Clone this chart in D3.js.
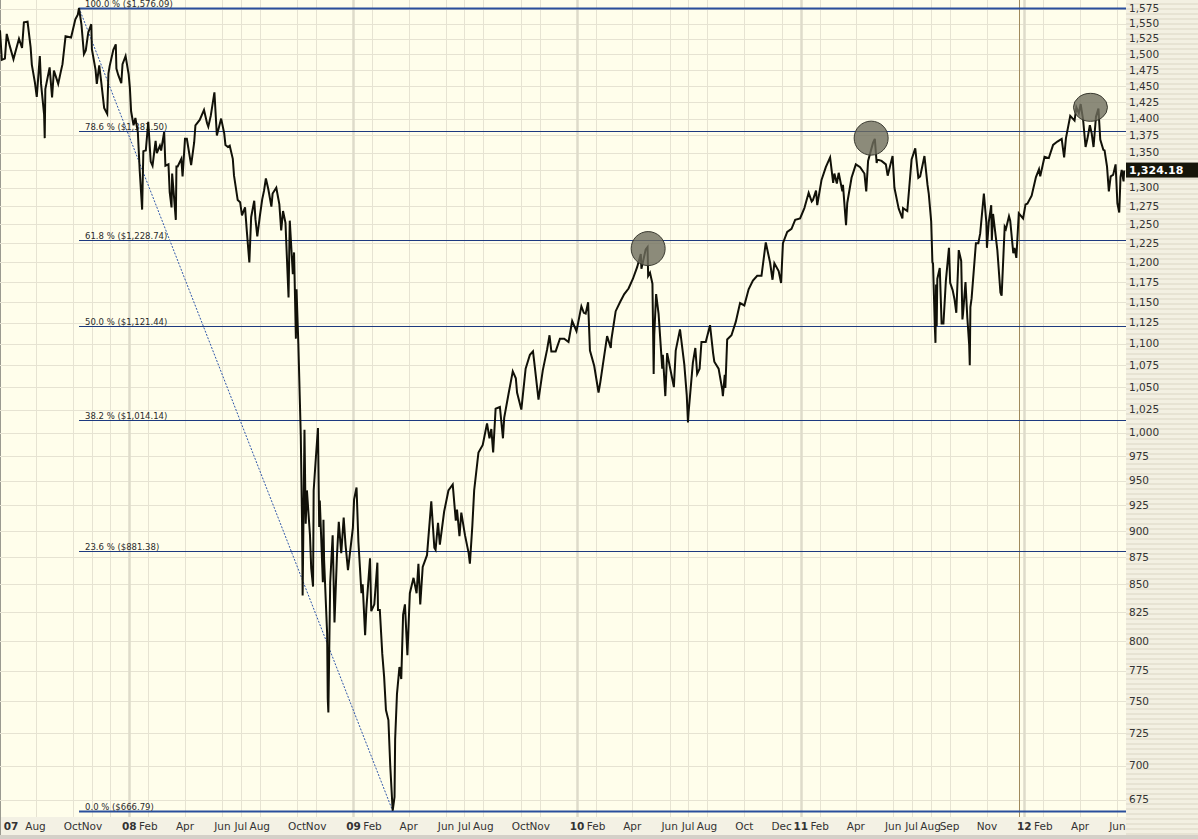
<!DOCTYPE html>
<html>
<head>
<meta charset="utf-8">
<script src="https://cdn.jsdelivr.net/npm/d3@7"></script>
<style>
  html, body { margin: 0; padding: 0; background: #fff; }
  svg { display: block; font-family: "DejaVu Sans", Tahoma, sans-serif; }
</style>
</head>
<body>
<div id="chart"></div>
<script>
// S&P 500 closes (plus a few intraday extremes)
var prices2007 = [
  ["2007-06-04",1539],["2007-06-07",1491],["2007-06-12",1493],["2007-06-15",1533],["2007-06-20",1513],
  ["2007-06-26",1492],["2007-06-29",1503],["2007-07-05",1525],["2007-07-10",1510],["2007-07-13",1552],
  ["2007-07-19",1553],["2007-07-24",1511],["2007-07-26",1483],["2007-07-31",1455],["2007-08-03",1433],
  ["2007-08-08",1497],["2007-08-10",1453],["2007-08-15",1406],["2007-08-16",1371],["2007-08-17",1445],
  ["2007-08-24",1479],["2007-08-28",1432],["2007-08-31",1474],["2007-09-07",1453],["2007-09-11",1471],
  ["2007-09-14",1484],["2007-09-19",1529],["2007-09-28",1527],["2007-10-05",1557],["2007-10-09",1565],
  ["2007-10-11",1576],["2007-10-15",1548],["2007-10-19",1500],["2007-10-22",1506],["2007-10-26",1535],
  ["2007-10-31",1549],["2007-11-01",1508],["2007-11-07",1475],["2007-11-09",1453],["2007-11-13",1482],
  ["2007-11-16",1458],["2007-11-21",1416],["2007-11-26",1407],["2007-11-28",1469],["2007-11-30",1481],
  ["2007-12-06",1507],["2007-12-10",1516],["2007-12-11",1477],["2007-12-14",1467],["2007-12-19",1454],
  ["2007-12-21",1484],["2007-12-26",1497],["2007-12-31",1468]
];
var prices2008 = [
  ["2008-01-02",1447],["2008-01-04",1411],["2008-01-08",1390],["2008-01-11",1401],["2008-01-15",1380],
  ["2008-01-18",1325],["2008-01-22",1270],["2008-01-24",1352],["2008-01-28",1353],["2008-02-01",1395],
  ["2008-02-05",1337],["2008-02-08",1331],["2008-02-13",1367],["2008-02-15",1349],["2008-02-20",1360],
  ["2008-02-22",1353],["2008-02-27",1380],["2008-02-29",1331],["2008-03-05",1333],["2008-03-07",1294],
  ["2008-03-10",1273],["2008-03-11",1320],["2008-03-14",1288],["2008-03-17",1256],["2008-03-18",1330],
  ["2008-03-20",1330],["2008-03-26",1341],["2008-03-28",1316],["2008-04-01",1370],["2008-04-04",1370],
  ["2008-04-11",1332],["2008-04-16",1365],["2008-04-18",1390],["2008-04-25",1398],["2008-05-02",1413],
  ["2008-05-07",1393],["2008-05-09",1388],["2008-05-13",1404],["2008-05-19",1440],["2008-05-23",1375],
  ["2008-05-30",1400],["2008-06-04",1378],["2008-06-06",1361],["2008-06-10",1358],["2008-06-13",1360],
  ["2008-06-18",1341],["2008-06-20",1317],["2008-06-26",1283],["2008-06-30",1280],["2008-07-03",1262],
  ["2008-07-08",1273],["2008-07-11",1240],["2008-07-15",1200],["2008-07-18",1260],["2008-07-23",1282],
  ["2008-07-25",1257],["2008-07-28",1234],["2008-08-01",1260],["2008-08-05",1284],["2008-08-08",1296],
  ["2008-08-11",1313],["2008-08-15",1298],["2008-08-20",1274],["2008-08-22",1292],["2008-08-28",1300],
  ["2008-09-02",1277],["2008-09-05",1242],["2008-09-08",1268],["2008-09-12",1252],["2008-09-15",1193],
  ["2008-09-17",1156],["2008-09-19",1255],["2008-09-24",1185],["2008-09-26",1213],["2008-09-29",1106],
  ["2008-09-30",1166],["2008-10-03",1100],["2008-10-07",996],["2008-10-09",910],["2008-10-10",840],
  ["2008-10-13",1003],["2008-10-15",907],["2008-10-17",940],["2008-10-22",896],["2008-10-24",865],
  ["2008-10-27",848],["2008-10-28",940],["2008-10-31",968],["2008-11-04",1005],["2008-11-06",904],
  ["2008-11-07",930],["2008-11-12",852],["2008-11-13",911],["2008-11-14",873],["2008-11-19",806],
  ["2008-11-20",752],["2008-11-21",741],["2008-11-24",852],["2008-11-28",896],["2008-12-01",816],
  ["2008-12-05",876],["2008-12-08",909],["2008-12-12",879],["2008-12-16",913],["2008-12-19",887],
  ["2008-12-23",863],["2008-12-31",903]
];
var prices2009 = [
  ["2009-01-02",931],["2009-01-06",943],["2009-01-09",890],["2009-01-14",842],["2009-01-16",850],
  ["2009-01-20",805],["2009-01-22",828],["2009-01-28",874],["2009-01-30",826],["2009-02-04",832],
  ["2009-02-09",870],["2009-02-10",827],["2009-02-13",827],["2009-02-17",789],["2009-02-20",770],
  ["2009-02-23",743],["2009-02-27",735],["2009-03-02",700],["2009-03-06",667],["2009-03-09",677],
  ["2009-03-10",720],["2009-03-13",756],["2009-03-17",778],["2009-03-20",768],["2009-03-23",823],
  ["2009-03-26",832],["2009-03-30",788],["2009-04-03",842],["2009-04-09",856],["2009-04-14",842],
  ["2009-04-17",869],["2009-04-20",832],["2009-04-24",866],["2009-05-01",877],["2009-05-08",929],
  ["2009-05-13",884],["2009-05-15",882],["2009-05-19",908],["2009-05-22",887],["2009-05-29",919],
  ["2009-06-05",940],["2009-06-12",946],["2009-06-17",910],["2009-06-19",921],["2009-06-23",895],
  ["2009-06-26",918],["2009-07-02",896],["2009-07-08",879],["2009-07-10",869],["2009-07-14",905],
  ["2009-07-17",940],["2009-07-24",979],["2009-07-31",987],["2009-08-07",1010],["2009-08-11",994],
  ["2009-08-14",1004],["2009-08-17",979],["2009-08-21",1026],["2009-08-28",1028],["2009-09-02",994],
  ["2009-09-04",1016],["2009-09-11",1042],["2009-09-18",1068],["2009-09-23",1060],["2009-09-25",1044],
  ["2009-10-02",1025],["2009-10-09",1071],["2009-10-16",1087],["2009-10-21",1091],["2009-10-23",1079],
  ["2009-10-30",1036],["2009-11-06",1069],["2009-11-13",1093],["2009-11-17",1110],["2009-11-20",1091],
  ["2009-11-27",1091],["2009-12-04",1106],["2009-12-11",1106],["2009-12-18",1102],["2009-12-24",1127],
  ["2009-12-31",1115]
];
var prices2010 = [
  ["2010-01-08",1145],["2010-01-12",1137],["2010-01-15",1136],["2010-01-19",1150],["2010-01-22",1092],
  ["2010-01-29",1074],["2010-02-05",1044],["2010-02-08",1056],["2010-02-12",1075],["2010-02-19",1109],
  ["2010-02-25",1095],["2010-02-26",1105],["2010-03-05",1139],["2010-03-12",1150],["2010-03-19",1160],
  ["2010-03-26",1167],["2010-04-02",1179],["2010-04-09",1194],["2010-04-15",1211],["2010-04-16",1192],
  ["2010-04-23",1217],["2010-04-26",1220],["2010-04-27",1183],["2010-04-30",1187],["2010-05-04",1173],
  ["2010-05-06",1065],["2010-05-07",1111],["2010-05-10",1160],["2010-05-14",1136],["2010-05-20",1071],
  ["2010-05-21",1087],["2010-05-25",1040],["2010-05-28",1089],["2010-06-04",1064],["2010-06-08",1050],
  ["2010-06-11",1092],["2010-06-18",1117],["2010-06-25",1076],["2010-06-29",1041],["2010-07-01",1011],
  ["2010-07-02",1022],["2010-07-09",1078],["2010-07-13",1095],["2010-07-16",1065],["2010-07-20",1071],
  ["2010-07-23",1102],["2010-07-30",1102],["2010-08-06",1122],["2010-08-11",1089],["2010-08-13",1079],
  ["2010-08-20",1071],["2010-08-26",1047],["2010-08-27",1040],["2010-08-30",1064],["2010-08-31",1049],
  ["2010-09-03",1105],["2010-09-10",1110],["2010-09-17",1126],["2010-09-24",1149],["2010-10-01",1146],
  ["2010-10-08",1166],["2010-10-15",1177],["2010-10-22",1183],["2010-10-29",1183],["2010-11-05",1226],
  ["2010-11-12",1200],["2010-11-16",1178],["2010-11-19",1199],["2010-11-26",1189],["2010-11-30",1174],
  ["2010-12-03",1225],["2010-12-10",1240],["2010-12-17",1244],["2010-12-23",1256],["2010-12-31",1258]
];
var prices2011 = [
  ["2011-01-07",1272],["2011-01-14",1293],["2011-01-19",1281],["2011-01-21",1283],["2011-01-26",1296],
  ["2011-01-28",1276],["2011-02-04",1311],["2011-02-11",1329],["2011-02-18",1343],["2011-02-23",1307],
  ["2011-02-25",1320],["2011-03-01",1306],["2011-03-04",1321],["2011-03-10",1295],["2011-03-11",1304],
  ["2011-03-16",1249],["2011-03-18",1279],["2011-03-25",1314],["2011-04-01",1333],["2011-04-08",1329],
  ["2011-04-15",1320],["2011-04-18",1295],["2011-04-21",1338],["2011-04-29",1364],["2011-05-02",1370],
  ["2011-05-05",1335],["2011-05-06",1340],["2011-05-13",1338],["2011-05-20",1333],["2011-05-23",1317],
  ["2011-05-27",1331],["2011-05-31",1345],["2011-06-03",1300],["2011-06-10",1271],["2011-06-16",1258],
  ["2011-06-17",1272],["2011-06-24",1268],["2011-07-01",1340],["2011-07-07",1356],["2011-07-12",1314],
  ["2011-07-15",1316],["2011-07-22",1345],["2011-07-27",1304],["2011-07-29",1292],["2011-08-02",1254],
  ["2011-08-04",1200],["2011-08-05",1199],["2011-08-08",1119],["2011-08-09",1101],["2011-08-10",1172],
  ["2011-08-11",1121],["2011-08-12",1179],["2011-08-16",1193],["2011-08-19",1124],["2011-08-22",1124],
  ["2011-08-26",1177],["2011-08-31",1219],["2011-09-02",1174],["2011-09-06",1165],["2011-09-09",1154],
  ["2011-09-12",1137],["2011-09-16",1216],["2011-09-20",1202],["2011-09-22",1129],["2011-09-23",1136],
  ["2011-09-27",1175],["2011-09-30",1131],["2011-10-03",1099],["2011-10-04",1075],["2011-10-05",1144],
  ["2011-10-07",1155],["2011-10-14",1225],["2011-10-18",1225],["2011-10-21",1238],["2011-10-27",1292],
  ["2011-10-31",1253],["2011-11-01",1219],["2011-11-04",1253],["2011-11-08",1276],["2011-11-09",1229],
  ["2011-11-11",1264],["2011-11-18",1216],["2011-11-23",1162],["2011-11-25",1158],["2011-11-30",1247],
  ["2011-12-02",1244],["2011-12-07",1261],["2011-12-09",1255],["2011-12-14",1212],["2011-12-16",1219],
  ["2011-12-19",1206],["2011-12-23",1265],["2011-12-30",1258]
];
var prices2012 = [
  ["2012-01-03",1277],["2012-01-06",1278],["2012-01-13",1289],["2012-01-20",1315],["2012-01-25",1326],
  ["2012-01-27",1316],["2012-02-03",1344],["2012-02-10",1342],["2012-02-17",1361],["2012-02-24",1366],
  ["2012-03-02",1370],["2012-03-06",1343],["2012-03-09",1371],["2012-03-16",1404],["2012-03-23",1397],
  ["2012-03-26",1417],["2012-03-30",1408],["2012-04-02",1422],["2012-04-06",1398],["2012-04-10",1358],
  ["2012-04-13",1370],["2012-04-17",1390],["2012-04-20",1378],["2012-04-23",1358],["2012-04-27",1403],
  ["2012-05-01",1415],["2012-05-04",1369],["2012-05-09",1354],["2012-05-11",1353],["2012-05-15",1330],
  ["2012-05-18",1295],["2012-05-21",1316],["2012-05-25",1318],["2012-05-29",1333],["2012-06-01",1278],
  ["2012-06-04",1266],["2012-06-06",1315],["2012-06-08",1325],["2012-06-11",1309],["2012-06-12",1324.18]
];

// fibonacci retracement from the Oct-07 high to the Mar-09 low
var fibPercents = [100, 78.6, 61.8, 50, 38.2, 23.6, 0];
var fibPrices = [1576.09, 1381.50, 1228.74, 1121.44, 1014.14, 881.38, 666.79];
var fibStart = "2007-10-11";
var fibEnd = "2009-03-06";

// grey circles drawn on the chart
var circleDates = ["2010-04-27", "2011-04-26", "2012-04-18"];
var circleValues = [1218, 1371, 1417];

// bottom axis labels
var tickDates = ["2007-06-22","2007-08-01","2007-10-01","2007-11-01","2008-01-01","2008-02-01","2008-04-01",
  "2008-06-01","2008-07-01","2008-08-01","2008-10-01","2008-11-01","2009-01-01","2009-02-01","2009-04-01",
  "2009-06-01","2009-07-01","2009-08-01","2009-10-01","2009-11-01","2010-01-01","2010-02-01","2010-04-01",
  "2010-06-01","2010-07-01","2010-08-01","2010-10-01","2010-12-01","2011-01-01","2011-02-01","2011-04-01",
  "2011-06-01","2011-07-01","2011-08-01","2011-09-01","2011-11-01","2012-01-01","2012-02-01","2012-04-01",
  "2012-06-01"];
var tickLabels = ["07","Aug","Oct","Nov","08","Feb","Apr","Jun","Jul","Aug","Oct","Nov","09","Feb","Apr",
  "Jun","Jul","Aug","Oct","Nov","10","Feb","Apr","Jun","Jul","Aug","Oct","Dec","11","Feb","Apr",
  "Jun","Jul","Aug","Sep","Nov","12","Feb","Apr","Jun"];
var extraGridDates = ["2007-12-01"];
var markerDate = "2011-12-23";
var lastPrice = 1324.18;

var width = 1198, height = 839;
var plotRight = 1126, plotBottom = 817;

var parse = d3.utcParse("%Y-%m-%d");
var series = [].concat(prices2007, prices2008, prices2009, prices2010, prices2011, prices2012)
  .map(function(d) { return {date: parse(d[0]), value: d[1]}; });

var x = d3.scaleUtc().domain([parse("2007-06-04"), parse("2012-06-15")]).range([0, plotRight]);
var y = d3.scaleLog().domain([666.79, 1576.09]).range([811, 8]);

var svg = d3.select("#chart").append("svg").attr("width", width).attr("height", height);

var defs = svg.append("defs");
defs.append("clipPath").attr("id", "plotclip")
  .append("rect").attr("x", 0).attr("y", 0).attr("width", plotRight).attr("height", plotBottom);
var stripes = defs.append("pattern").attr("id", "stripes").attr("patternUnits", "userSpaceOnUse")
  .attr("width", 10).attr("height", 5);
stripes.append("rect").attr("width", 10).attr("height", 5).attr("fill", "#f3f0e2");
stripes.append("rect").attr("y", 3).attr("width", 10).attr("height", 2).attr("fill", "#e7e3d3");

// backgrounds
svg.append("rect").attr("width", width).attr("height", height).attr("fill", "#f3f1e4");
svg.append("rect").attr("width", plotRight).attr("height", plotBottom).attr("fill", "#fffeeb");
svg.append("rect").attr("x", plotRight).attr("width", width - plotRight).attr("height", plotBottom + 18)
  .attr("fill", "url(#stripes)");
svg.append("rect").attr("y", 835).attr("width", width).attr("height", 4).attr("fill", "#d4d0c8");
svg.append("rect").attr("width", 1).attr("height", 835).attr("fill", "#9a9a90");

var plot = svg.append("g").attr("clip-path", "url(#plotclip)");

// horizontal grid
var yTicks = d3.range(675, 1576, 25);
plot.selectAll(".hgrid").data(yTicks).enter().append("line")
  .attr("x1", 0).attr("x2", plotRight)
  .attr("y1", function(d) { return Math.round(y(d)) + 0.5; })
  .attr("y2", function(d) { return Math.round(y(d)) + 0.5; })
  .attr("stroke", "#e6e3d2").attr("stroke-width", 1);

// vertical grid
var gridDates = tickDates.slice(1).concat(extraGridDates).map(parse);
plot.selectAll(".vgrid").data(gridDates).enter().append("line")
  .attr("x1", function(d) { return Math.round(x(d)) + 0.5; })
  .attr("x2", function(d) { return Math.round(x(d)) + 0.5; })
  .attr("y1", 0).attr("y2", plotBottom)
  .attr("stroke", function(d) { return d.getUTCMonth() === 0 ? "#dedbca" : "#e6e3d2"; })
  .attr("stroke-width", function(d) { return d.getUTCMonth() === 0 ? 2.5 : 1; });

plot.append("line")
  .attr("x1", Math.round(x(parse(markerDate))) + 0.5).attr("x2", Math.round(x(parse(markerDate))) + 0.5)
  .attr("y1", 0).attr("y2", plotBottom)
  .attr("stroke", "#a08a5c").attr("stroke-width", 1);

// fib lines
var fibX0 = x(parse(fibStart));
plot.selectAll(".fib").data(fibPrices).enter().append("line")
  .attr("x1", fibX0).attr("x2", plotRight)
  .attr("y1", function(d) { return Math.round(y(d)) + 0.5; })
  .attr("y2", function(d) { return Math.round(y(d)) + 0.5; })
  .attr("stroke", function(d, i) { return (i === 0 || i === fibPrices.length - 1) ? "#2a4f9c" : "#1d3a80"; })
  .attr("stroke-width", function(d, i) { return (i === 0 || i === fibPrices.length - 1) ? 2 : 1; });

plot.append("line")
  .attr("x1", fibX0).attr("y1", y(fibPrices[0]))
  .attr("x2", x(parse(fibEnd))).attr("y2", y(fibPrices[fibPrices.length - 1]))
  .attr("stroke", "#2f56aa").attr("stroke-width", 1).attr("stroke-dasharray", "2,1.5");

var money = d3.format(",.2f");
plot.selectAll(".fiblabel").data(fibPrices).enter().append("text")
  .attr("x", fibX0 + 6)
  .attr("y", function(d) { return Math.round(y(d)) - 1; })
  .attr("font-size", 8.5).attr("fill", "#2b2b2b")
  .text(function(d, i) { return fibPercents[i].toFixed(1) + " %  ($" + money(d) + ")"; });

// price line
var priceLine = d3.line()
  .x(function(d) { return x(d.date); })
  .y(function(d) { return y(d.value); });

plot.append("path").datum(series)
  .attr("fill", "none")
  .attr("stroke", "#111108")
  .attr("stroke-width", 2)
  .attr("stroke-linejoin", "miter")
  .attr("d", priceLine);

// circles
plot.selectAll(".mark").data(circleDates).enter().append("ellipse")
  .attr("cx", function(d) { return x(parse(d)); })
  .attr("cy", function(d, i) { return y(circleValues[i]); })
  .attr("rx", 17)
  .attr("ry", function(d, i) { return i === 2 ? 14 : 17; })
  .attr("fill", "#6f6e5e").attr("fill-opacity", 0.8)
  .attr("stroke", "#3a3a30").attr("stroke-width", 1);

// right axis labels (the one under the last-price box is hidden)
var fmt = d3.format(",");
svg.selectAll(".ylab").data(yTicks.filter(function(d) { return Math.abs(y(d) - y(lastPrice)) > 9; }))
  .enter().append("text")
  .attr("x", plotRight + 3)
  .attr("y", function(d) { return y(d); })
  .attr("dy", "0.35em")
  .attr("font-size", 10.5).attr("fill", "#333")
  .text(function(d) { return fmt(d); });

// last price box
svg.append("rect").attr("x", plotRight).attr("y", y(lastPrice) - 8)
  .attr("width", width - plotRight).attr("height", 15).attr("fill", "#16160a");
svg.append("text").attr("x", plotRight + 3).attr("y", y(lastPrice)).attr("dy", "0.35em")
  .attr("font-size", 11).attr("font-weight", "bold").attr("fill", "#fff")
  .text(money(lastPrice));

// bottom axis labels
svg.selectAll(".xlab").data(tickDates).enter().append("text")
  .attr("x", function(d) { return x(parse(d)); })
  .attr("y", 830)
  .attr("text-anchor", "middle")
  .attr("font-size", 10.5)
  .attr("font-weight", function(d, i) { return /^\d/.test(tickLabels[i]) ? "bold" : "normal"; })
  .attr("fill", "#333")
  .text(function(d, i) { return tickLabels[i]; });
</script>
</body>
</html>
